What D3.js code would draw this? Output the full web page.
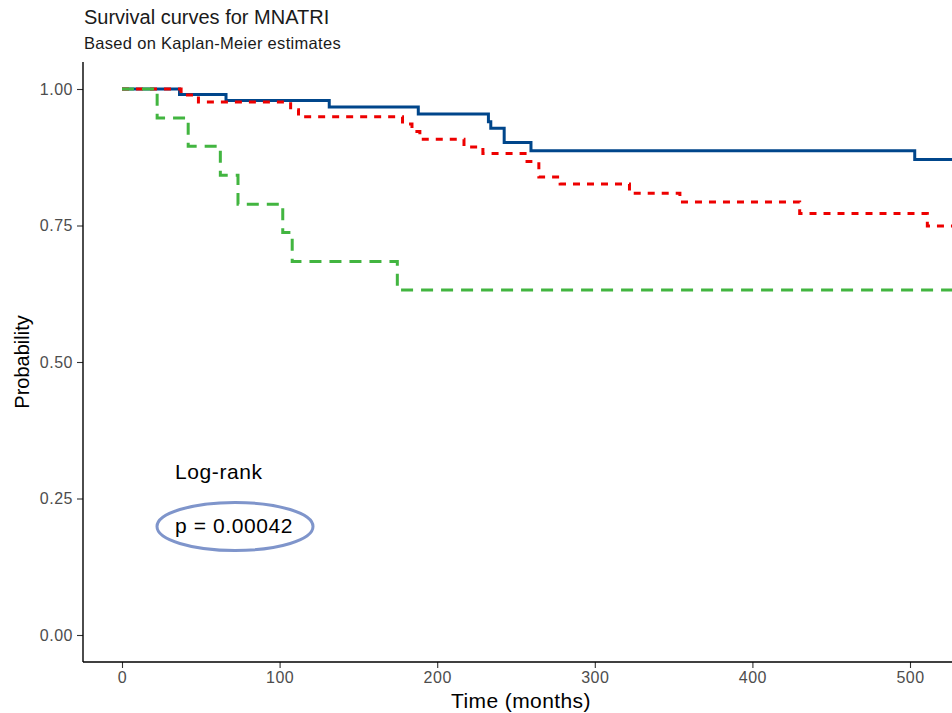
<!DOCTYPE html>
<html>
<head>
<meta charset="utf-8">
<script src="https://cdn.jsdelivr.net/npm/d3@7"></script>
<style>
  body { margin: 0; background: #fff; }
  svg { display: block; font-family: "Liberation Sans", Arial, sans-serif; }
</style>
</head>
<body>
<div id="chart"></div>
<script>
// Kaplan-Meier step points (time in months, survival probability)
const blueTime  = [0, 36.5, 66, 131.5, 188, 232.5, 234, 242.5, 259.5, 503, 530];
const blueSurv  = [1, 0.990, 0.979, 0.967, 0.954, 0.940, 0.928, 0.902, 0.887, 0.871, 0.871];

const redTime   = [0, 37.5, 48.5, 107, 112, 178, 184, 189, 217, 229, 257, 264.5, 278, 322, 354, 430, 511, 530];
const redSurv   = [1, 0.989, 0.976, 0.962, 0.949, 0.936, 0.922, 0.908, 0.894, 0.882, 0.867, 0.839, 0.826, 0.809, 0.793, 0.772, 0.749, 0.749];

const greenTime = [0, 22.3, 42, 62.4, 73.6, 102, 108, 174.7, 530];
const greenSurv = [1, 0.947, 0.895, 0.842, 0.789, 0.737, 0.684, 0.632, 0.632];

const xTicks = [0, 100, 200, 300, 400, 500];
const yTicks = [0, 0.25, 0.5, 0.75, 1];

const series = [
    {name: "blue",  time: blueTime,  surv: blueSurv,  color: "#00468B", dash: null},
    {name: "red",   time: redTime,   surv: redSurv,   color: "#ED0000", dash: "7,7"},
    {name: "green", time: greenTime, surv: greenSurv, color: "#42B540", dash: "12,8"}
];

let width = 952,
    height = 713,
    panel = {left: 83, right: 959, top: 62, bottom: 662};

const svg = d3.select("#chart").append("svg")
    .attr("width", width)
    .attr("height", height);

const x = d3.scaleLinear().domain([0, 500]).range([122, 910]);
const y = d3.scaleLinear().domain([0, 1]).range([635, 89]);

// titles
svg.append("text")
    .attr("x", 84).attr("y", 24)
    .style("font-size", "20px").style("fill", "#1a1a1a")
    .text("Survival curves for MNATRI");
svg.append("text")
    .attr("x", 84).attr("y", 49)
    .style("font-size", "16.5px").style("letter-spacing", "0.3px").style("fill", "#1a1a1a")
    .text("Based on Kaplan-Meier estimates");

svg.append("defs").append("clipPath").attr("id", "clip")
    .append("rect")
    .attr("x", panel.left).attr("y", panel.top)
    .attr("width", panel.right - panel.left).attr("height", panel.bottom - panel.top);

// curves
const line = d3.line()
    .x(d => x(d[0]))
    .y(d => y(d[1]))
    .curve(d3.curveStepAfter);

const g = svg.append("g").attr("clip-path", "url(#clip)");

g.selectAll("path.km")
    .data(series)
    .enter().append("path")
    .attr("class", "km")
    .attr("d", s => line(s.time.map((t, i) => [t, s.surv[i]])))
    .attr("fill", "none")
    .attr("stroke", s => s.color)
    .attr("stroke-width", 3)
    .attr("stroke-dasharray", s => s.dash);

// axes
const xAxis = svg.append("g")
    .attr("transform", "translate(0," + panel.bottom + ")")
    .call(d3.axisBottom(x).tickValues(xTicks).tickSize(6).tickSizeOuter(0).tickPadding(4));
const yAxis = svg.append("g")
    .attr("transform", "translate(" + panel.left + ",0)")
    .call(d3.axisLeft(y).tickValues(yTicks).tickFormat(d3.format(".2f")).tickSize(6).tickSizeOuter(0).tickPadding(4));

[xAxis, yAxis].forEach(a => {
    a.select(".domain").remove();
    a.selectAll(".tick line").attr("stroke", "#333").attr("stroke-width", 1.1);
    a.selectAll(".tick text")
        .style("font-size", "16px")
        .style("letter-spacing", "0.5px")
        .style("font-family", "'Liberation Sans', Arial, sans-serif")
        .attr("fill", "#4D4D4D");
});

svg.append("line")
    .attr("x1", panel.left).attr("x2", panel.right)
    .attr("y1", panel.bottom).attr("y2", panel.bottom)
    .attr("stroke", "#000").attr("stroke-width", 1.4);
svg.append("line")
    .attr("x1", panel.left).attr("x2", panel.left)
    .attr("y1", panel.top).attr("y2", panel.bottom)
    .attr("stroke", "#000").attr("stroke-width", 1.4);

// axis titles
svg.append("text")
    .attr("x", (panel.left + panel.right) / 2).attr("y", 708)
    .attr("text-anchor", "middle")
    .style("font-size", "21px").style("letter-spacing", "0.4px").style("fill", "#000")
    .text("Time (months)");
svg.append("text")
    .attr("transform", "translate(29," + (panel.top + panel.bottom) / 2 + ") rotate(-90)")
    .attr("text-anchor", "middle")
    .style("font-size", "20px").style("fill", "#000")
    .text("Probability");

// log-rank annotation
svg.append("text")
    .attr("x", 175).attr("y", 479)
    .style("font-size", "21px").style("letter-spacing", "0.6px").style("fill", "#000")
    .text("Log-rank");
svg.append("ellipse")
    .attr("cx", 235).attr("cy", 526.5)
    .attr("rx", 78).attr("ry", 24)
    .attr("fill", "none")
    .attr("stroke", "#7F95CB")
    .attr("stroke-width", 3);
svg.append("text")
    .attr("x", 175).attr("y", 533)
    .style("font-size", "21px").style("letter-spacing", "0.6px").style("fill", "#000")
    .text("p = 0.00042");
</script>
</body>
</html>
